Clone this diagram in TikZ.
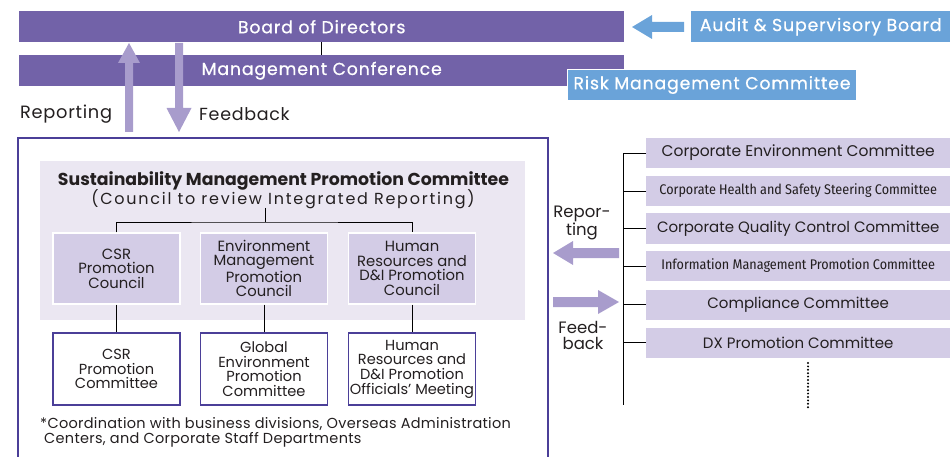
\documentclass[tikz,border=0pt]{standalone}
\usepackage{fontspec}
\setmainfont{Poppins}
\newfontfamily\condfont{Fira Sans Condensed}
\newfontfamily\barfont{Poppins}[FakeBold=0.7, LetterSpace=5]
\newfontfamily\lsfont{Poppins}[LetterSpace=4]
\newfontfamily\fnfont{Poppins}[LetterSpace=2]
\newfontfamily\wsfont{Poppins}[LetterSpace=11]
\definecolor{barpurple}{HTML}{7262A8}
\definecolor{skyblue}{HTML}{6AA3D9}
\definecolor{arrowpurple}{HTML}{A89CCC}
\definecolor{councilfill}{HTML}{D3CCE6}
\definecolor{bgfill}{HTML}{EBE7F2}
\definecolor{framepurple}{HTML}{4B3F98}
\definecolor{txt}{HTML}{231F20}
\tikzset{
  bar/.style={fill=barpurple, text=white, minimum height=31, inner sep=0, font=\barfont\fontsize{17.3}{18}\selectfont},
  bluebox/.style={fill=skyblue, text=white, inner sep=0, font=\barfont\fontsize{17.3}{18}\selectfont},
  council/.style={fill=councilfill, draw=white, line width=1.2, minimum width=127, minimum height=71, align=center, inner sep=0, font=\fontsize{14.8}{14.6}\selectfont, text=txt},
  committee/.style={fill=white, draw=framepurple, line width=1.2, minimum width=127, minimum height=72, align=center, inner sep=0, font=\fontsize{14.6}{14.6}\selectfont, text=txt},
  rbox/.style={fill=councilfill, minimum width=304, minimum height=30, inner sep=0, anchor=west, text=txt},
  fatarrow/.style={fill=arrowpurple, draw=none},
  conn/.style={draw=black, line width=0.7},
}
\begin{document}
\begin{tikzpicture}[x=1pt,y=-1pt]
\useasboundingbox (0,0) rectangle (950,457);
% top bars
\node[bar, minimum width=605, anchor=north west] (board) at (19,11) {Board of Directors};
\node[bar, minimum width=605, anchor=north west] (mgmt) at (19,55) {Management Conference};
\draw[conn] (board.south) -- (mgmt.north);
\node[bluebox, minimum width=289, minimum height=31, anchor=north west, draw=white, line width=1] (risk) at (567,69) {Risk Management Committee};
\node[bluebox, minimum width=259, minimum height=31, anchor=north west] (audit) at (691,11) {Audit \& Supervisory Board};
% audit arrow
\fill[skyblue] (632,27) -- (652,15) -- (652,22) -- (684,22) -- (684,32) -- (652,32) -- (652,39) -- cycle;
% reporting / feedback arrows (vertical)
\fill[fatarrow] (129,43) -- (140,63) -- (133,63) -- (133,132) -- (125,132) -- (125,63) -- (118,63) -- cycle;
\fill[fatarrow] (179,132) -- (191.5,108) -- (183,108) -- (183,43) -- (175,43) -- (175,108) -- (166.5,108) -- cycle;
\node[anchor=west, font=\lsfont\fontsize{17.8}{18}\selectfont, text=txt, inner sep=0] (replbl) at (20,114) {Reporting};
\node[anchor=west, font=\lsfont\fontsize{17.5}{18}\selectfont, text=txt, inner sep=0] (fblbl) at (199,114) {Feedback};
% main frame
\draw[framepurple, line width=1.5] (18,470) -- (18,138) -- (548,138) -- (548,470);
\node[fill=bgfill, minimum width=485, minimum height=159, anchor=north west, inner sep=0] (bg) at (40,161) {};
\node[font=\bfseries\fontsize{17.3}{17}\selectfont, text=txt, inner sep=0] (smpc) at (283.5,181) {Sustainability Management Promotion Committee};
\node[font=\wsfont\fontsize{16}{17}\selectfont, text=txt, inner sep=0] (smpcsub) at (283,199) {(Council to review Integrated Reporting)};
% councils
\node[council] (c1) at (116.5,268.5) {CSR\\Promotion\\Council};
\node[council] (c2) at (264,268.5) {Environment\\Management\\Promotion\\Council};
\node[council] (c3) at (412,268.5) {Human\\Resources and\\D\&I Promotion\\Council};
\coordinate (hub) at (265,222);
\draw[conn] (265,208) -- (hub);
\draw[conn] (c1.north) |- (hub) -| (c3.north);
% committees
\node[committee] (m1) at (116.5,369) {CSR\\Promotion\\Committee};
\node[committee] (m2) at (264,369) {Global\\Environment\\Promotion\\Committee};
\node[committee] (m3) at (412,369) {Human\\Resources and\\D\&I Promotion\\Officials’ Meeting};
\draw[conn] (c1.south) -- (m1.north);
\draw[conn] (c2.south) -- (m2.north);
\draw[conn] (c3.south) -- (m3.north);
\node[anchor=north west, align=left, font=\fnfont\fontsize{14.5}{15}\selectfont, text=txt, inner sep=0] (note) at (40,417) {*Coordination with business divisions, Overseas Administration\\\hspace*{4pt}Centers, and Corporate Staff Departments};
% right side committees
\node[rbox, font=\fontsize{15.5}{17}\selectfont] (r1) at (646,153) {Corporate Environment Committee};
\node[rbox, font=\condfont\fontsize{14}{17}\selectfont] (r2) at (646,191) {Corporate Health and Safety Steering Committee};
\node[rbox, font=\fontsize{15}{17}\selectfont] (r3) at (646,228.5) {Corporate Quality Control Committee};
\node[rbox, font=\condfont\fontsize{14}{17}\selectfont] (r4) at (646,266) {Information Management Promotion Committee};
\node[rbox, font=\fontsize{15}{17}\selectfont] (r5) at (646,304.5) {Compliance Committee};
\node[rbox, font=\fontsize{15}{17}\selectfont] (r6) at (646,342.5) {DX Promotion Committee};
\coordinate (spinetop) at (623,153);
\coordinate (spinebot) at (623,405);
\draw[conn] (r1.west) -- (spinetop) -- (spinebot);
\foreach \r in {r2,r3,r4,r5,r6} \draw[conn] (\r.west) -- (\r.west -| spinetop);
\coordinate (dottop) at (808,363);
\coordinate (dotbot) at (808,408);
\draw[black, line width=2.2, dash pattern=on 0pt off 3.4pt, line cap=round] (dottop) -- (dotbot);
% side arrows
\fill[fatarrow] (553,253) -- (573,241) -- (573,248) -- (619,248) -- (619,258) -- (573,258) -- (573,265) -- cycle;
\fill[fatarrow] (619,302) -- (598,290) -- (598,297) -- (553,297) -- (553,307) -- (598,307) -- (598,314) -- cycle;
\node[align=center, font=\fontsize{16.5}{16}\selectfont, text=txt, inner sep=0] (rep2) at (582,223) {Repor-\\ting};
\node[align=center, font=\fontsize{16.5}{16}\selectfont, text=txt, inner sep=0] (fb2) at (583,335) {Feed-\\back};
\end{tikzpicture}
\end{document}
